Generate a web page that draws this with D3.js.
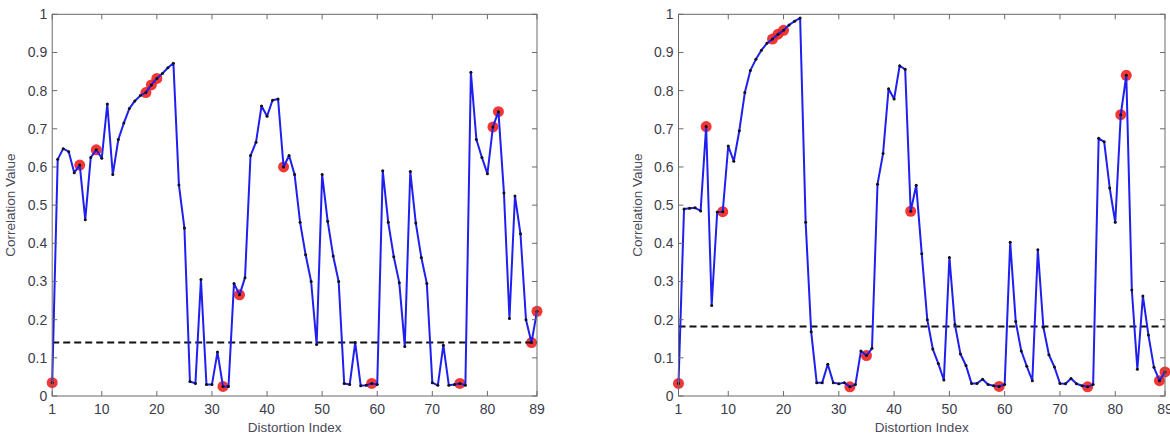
<!DOCTYPE html>
<html lang="en">

<head>
  <meta charset="utf-8" />
  <title>Correlation vs Distortion Index</title>
  <script src="https://cdn.jsdelivr.net/npm/d3@7"></script>
  <style>
    body {
      margin: 0;
      background: #fff;
    }

    .frame {
      fill: none;
      stroke: #6a6a6a;
      stroke-width: 1px;
    }

    .tick-mark {
      stroke: #6a6a6a;
      stroke-width: 1px;
    }

    .tick-label {
      font-family: "Liberation Sans", Arial, sans-serif;
      font-size: 14px;
      fill: #3c3c4c;
    }

    .axis-label {
      font-family: "Liberation Sans", Arial, sans-serif;
      font-size: 13.5px;
      fill: #4a4a5a;
    }

    .data-line {
      fill: none;
      stroke: #1f1fef;
      stroke-width: 2px;
      stroke-linejoin: round;
    }

    .thresh-line {
      fill: none;
      stroke: #111;
      stroke-width: 2px;
      stroke-dasharray: 7, 4;
    }

    .pt {
      fill: #111;
    }

    .marked {
      fill: #f22020;
      opacity: 0.9;
    }
  </style>
</head>

<body>
  <script>
    var w = 1170;
    var h = 438;

    // correlation values for distortion index 1..89
    var leftValues = [
      0.035, 0.62, 0.648, 0.64, 0.585, 0.605, 0.462, 0.625, 0.645, 0.623,
      0.765, 0.58, 0.672, 0.715, 0.753, 0.773, 0.787, 0.795, 0.815, 0.832,
      0.845, 0.86, 0.872, 0.553, 0.44, 0.038, 0.033, 0.305, 0.03, 0.03,
      0.115, 0.025, 0.025, 0.295, 0.265, 0.31, 0.63, 0.665, 0.76, 0.733,
      0.775, 0.778, 0.6, 0.63, 0.58, 0.455, 0.37, 0.3, 0.135, 0.58,
      0.458, 0.367, 0.3, 0.033, 0.03, 0.14, 0.027, 0.028, 0.033, 0.03,
      0.59, 0.455, 0.365, 0.297, 0.13, 0.588, 0.453, 0.363, 0.295, 0.035,
      0.028, 0.133, 0.028, 0.03, 0.033, 0.028, 0.848, 0.672, 0.625, 0.582,
      0.705, 0.745, 0.532, 0.203, 0.524, 0.425, 0.2, 0.14, 0.222
    ];

    var rightValues = [
      0.033, 0.49, 0.492, 0.493, 0.485, 0.706, 0.237, 0.482, 0.483, 0.655,
      0.615, 0.695, 0.795, 0.853, 0.882, 0.906, 0.924, 0.935, 0.948, 0.958,
      0.972, 0.982, 0.99, 0.455, 0.168, 0.035, 0.035, 0.083, 0.035, 0.032,
      0.035, 0.024, 0.03, 0.118, 0.106, 0.125, 0.555, 0.635, 0.805, 0.778,
      0.865, 0.856, 0.484, 0.552, 0.373, 0.2, 0.123, 0.085, 0.042, 0.363,
      0.187, 0.11, 0.08, 0.033, 0.033, 0.044, 0.03, 0.027, 0.025, 0.03,
      0.403, 0.195, 0.118, 0.078, 0.04, 0.383, 0.18, 0.108, 0.076, 0.033,
      0.032, 0.046, 0.032, 0.027, 0.024, 0.03, 0.675, 0.666, 0.545, 0.455,
      0.737, 0.84, 0.278, 0.07, 0.262, 0.16, 0.075, 0.04, 0.063
    ];

    var leftThreshold = 0.14;
    var rightThreshold = 0.182;

    // indices highlighted with red markers
    var markedIdx = [1, 6, 9, 18, 19, 20, 32, 35, 43, 59, 75, 81, 82, 88, 89];

    var xTicks = [1, 10, 20, 30, 40, 50, 60, 70, 80, 89];
    var yTicks = [0, 0.1, 0.2, 0.3, 0.4, 0.5, 0.6, 0.7, 0.8, 0.9, 1];
    var yTickLabels = ["0", "0.1", "0.2", "0.3", "0.4", "0.5", "0.6", "0.7", "0.8", "0.9", "1"];

    var svg = d3.select("body")
      .append("svg")
      .attr("width", w)
      .attr("height", h);

    function drawPanel(values, threshold, x0, x1, labelX) {
      var top = 14.3;
      var bottom = 396;
      var tickLen = 5;

      var xScale = d3.scaleLinear()
        .domain([1, 89])
        .range([x0, x1]);

      var yScale = d3.scaleLinear()
        .domain([0, 1])
        .range([bottom, top]);

      var g = svg.append("g");

      var pts = values.map(function(v, i) {
        return { idx: i + 1, val: v };
      });

      // red highlight markers (under the line)
      g.selectAll(".marked")
        .data(pts.filter(function(d) {
          return markedIdx.indexOf(d.idx) >= 0;
        }))
        .enter()
        .append("circle")
        .attr("class", "marked")
        .attr("cx", function(d) { return xScale(d.idx); })
        .attr("cy", function(d) { return yScale(d.val); })
        .attr("r", 5.5);

      // threshold
      g.append("line")
        .attr("class", "thresh-line")
        .attr("x1", xScale(1))
        .attr("x2", xScale(89))
        .attr("y1", yScale(threshold))
        .attr("y2", yScale(threshold));

      var line = d3.line()
        .x(function(d) { return xScale(d.idx); })
        .y(function(d) { return yScale(d.val); });

      g.append("path")
        .datum(pts)
        .attr("class", "data-line")
        .attr("d", line);

      g.selectAll(".pt")
        .data(pts)
        .enter()
        .append("circle")
        .attr("class", "pt")
        .attr("cx", function(d) { return xScale(d.idx); })
        .attr("cy", function(d) { return yScale(d.val); })
        .attr("r", 1.5);

      // frame
      g.append("rect")
        .attr("class", "frame")
        .attr("x", x0)
        .attr("y", top)
        .attr("width", x1 - x0)
        .attr("height", bottom - top);

      // x ticks, bottom and top, pointing inward
      xTicks.forEach(function(t) {
        g.append("line")
          .attr("class", "tick-mark")
          .attr("x1", xScale(t)).attr("x2", xScale(t))
          .attr("y1", bottom).attr("y2", bottom - tickLen);
        g.append("line")
          .attr("class", "tick-mark")
          .attr("x1", xScale(t)).attr("x2", xScale(t))
          .attr("y1", top).attr("y2", top + tickLen);
        g.append("text")
          .attr("class", "tick-label")
          .attr("x", xScale(t))
          .attr("y", bottom + 18)
          .attr("text-anchor", "middle")
          .text(t);
      });

      // y ticks, left and right
      yTicks.forEach(function(t, i) {
        g.append("line")
          .attr("class", "tick-mark")
          .attr("x1", x0).attr("x2", x0 + tickLen)
          .attr("y1", yScale(t)).attr("y2", yScale(t));
        g.append("line")
          .attr("class", "tick-mark")
          .attr("x1", x1).attr("x2", x1 - tickLen)
          .attr("y1", yScale(t)).attr("y2", yScale(t));
        g.append("text")
          .attr("class", "tick-label")
          .attr("x", x0 - 5)
          .attr("y", yScale(t) + 5)
          .attr("text-anchor", "end")
          .text(yTickLabels[i]);
      });

      g.append("text")
        .attr("class", "axis-label")
        .attr("x", (x0 + x1) / 2)
        .attr("y", 432)
        .attr("text-anchor", "middle")
        .text("Distortion Index");

      g.append("text")
        .attr("class", "axis-label")
        .attr("transform", "translate(" + labelX + "," + ((top + bottom) / 2) + ") rotate(-90)")
        .attr("text-anchor", "middle")
        .text("Correlation Value");
    }

    drawPanel(leftValues, leftThreshold, 52.2, 537, 15);
    drawPanel(rightValues, rightThreshold, 678.5, 1165, 642);
  </script>
</body>

</html>
